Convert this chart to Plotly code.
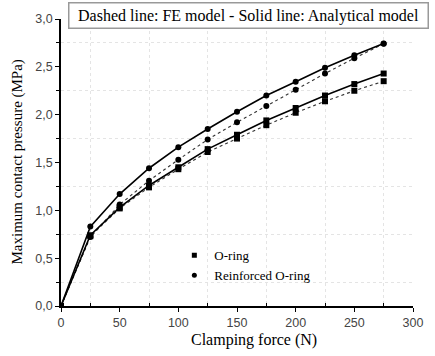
import plotly.graph_objects as go

force = [0, 25, 50, 75, 100, 125, 150, 175, 200, 225, 250, 275]
oring_analytical = [0, 0.74, 1.03, 1.26, 1.45, 1.64, 1.79, 1.94, 2.07, 2.20, 2.32, 2.43]
oring_fe = [0, 0.73, 1.02, 1.24, 1.43, 1.61, 1.75, 1.89, 2.02, 2.14, 2.25, 2.35]
reinf_analytical = [0, 0.83, 1.17, 1.44, 1.66, 1.85, 2.03, 2.20, 2.345, 2.49, 2.62, 2.745]
reinf_fe = [0, 0.72, 1.06, 1.31, 1.53, 1.74, 1.92, 2.09, 2.26, 2.43, 2.59, 2.74]

x_ticks = [0, 50, 100, 150, 200, 250, 300]
y_ticks = [0, 0.5, 1.0, 1.5, 2.0, 2.5, 3.0]
y_ticktext = ["0,0", "0,5", "1,0", "1,5", "2,0", "2,5", "3,0"]
legend_names = ["O-ring", "Reinforced O-ring"]
box_text = "Dashed line: FE model - Solid line: Analytical model"
x_title = "Clamping force (N)"
y_title = "Maximum contact pressure (MPa)"

serif = "Liberation Serif, Times New Roman, serif"
sans = "Liberation Sans, Arial, sans-serif"

fig = go.Figure()

def add(y, symbol, dash, width, color):
    fig.add_trace(go.Scatter(
        x=force, y=y, mode="lines+markers", showlegend=False,
        line=dict(color=color, width=width, dash=dash),
        marker=dict(symbol=symbol, size=6, color="black"),
    ))

add(oring_fe, "square", "dot", 1.1, "#333")
add(reinf_fe, "circle", "dot", 1.1, "#333")
add(oring_analytical, "square", "solid", 1.6, "black")
add(reinf_analytical, "circle", "solid", 1.6, "black")

for name, sym in zip(legend_names, ["square", "circle"]):
    fig.add_trace(go.Scatter(x=[None], y=[None], mode="markers", name=name,
                             marker=dict(symbol=sym, size=5, color="black")))

fig.update_layout(
    width=435, height=356,
    margin=dict(l=61, r=18, t=17, b=50),
    plot_bgcolor="white", paper_bgcolor="white",
    showlegend=True,
    legend=dict(x=0.322, y=0.229, xanchor="left", yanchor="top",
                bgcolor="rgba(0,0,0,0)", font=dict(family=serif, size=13, color="black"),
                itemwidth=30, tracegroupgap=0),
)

fig.update_xaxes(
    range=[0, 300], tickvals=x_ticks, showline=True, linecolor="black", linewidth=1.5,
    ticks="outside", ticklen=4, tickcolor="black", tickwidth=1.2,
    tickfont=dict(family=sans, size=12.5, color="#444"),
    showgrid=False, zeroline=False,
    minor=dict(dtick=50, tick0=25, ticks="inside", ticklen=3, tickcolor="black",
               showgrid=True, gridcolor="#e4e4e4", griddash="dot", gridwidth=1),
)
fig.update_yaxes(
    range=[0, 3.0], tickvals=y_ticks, ticktext=y_ticktext, showline=True, linecolor="black",
    linewidth=1.5, ticks="outside", ticklen=4, tickcolor="black", tickwidth=1.2,
    tickfont=dict(family=sans, size=12.5, color="#444"),
    showgrid=False, zeroline=False,
    minor=dict(dtick=0.5, tick0=0.25, ticks="outside", ticklen=3, tickcolor="black",
               showgrid=True, gridcolor="#e4e4e4", griddash="dot", gridwidth=1),
)

fig.add_annotation(
    text=box_text, xref="paper", yref="paper", x=0.534, y=1.0115,
    xanchor="center", yanchor="middle", showarrow=False,
    font=dict(family=serif, size=16, color="black"),
    bordercolor="#999", borderwidth=1.5, borderpad=2, width=354, height=20,
    bgcolor="white",
)
fig.add_annotation(
    text=x_title, xref="paper", yref="paper", x=0.548, y=-0.118,
    xanchor="center", yanchor="middle", showarrow=False,
    font=dict(family=serif, size=16, color="black"),
)
fig.add_annotation(
    text=y_title, xref="paper", yref="paper", x=-0.125, y=0.5,
    xanchor="center", yanchor="middle", showarrow=False, textangle=-90,
    font=dict(family=serif, size=15, color="black"),
)

fig.write_html("out.html")
